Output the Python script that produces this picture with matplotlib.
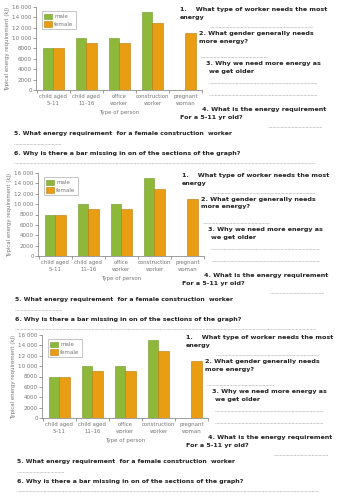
import numpy as np
import matplotlib
matplotlib.use("Agg")
import matplotlib.pyplot as plt
from matplotlib.lines import Line2D

# dados do grafico
categorias = ["child aged\n5\u201311", "child aged\n11\u201316", "office\nworker",
              "construction\nworker", "pregnant\nwoman"]
homem = [8000, 10000, 10000, 15000, np.nan]
mulher = [8000, 9000, 9000, 13000, 11000]
ticks_y = [0, 2000, 4000, 6000, 8000, 10000, 12000, 14000, 16000]
rotulos_y = ["0", "2000", "4000", "6000", "8000", "10 000", "12 000", "14 000", "16 000"]

perguntas = [
    "1.    What type of worker needs the most",
    "energy",
    "2. What gender generally needs",
    "more energy?",
    "3. Why we need more energy as",
    "we get older",
    "4. What is the energy requirement",
    "For a 5-11 yr old?",
    "5. What energy requirement  for a female construction  worker",
    "6. Why is there a bar missing in on of the sections of the graph?",
]

W, H = 353, 500
fig = plt.figure(figsize=(W / 100, H / 100), dpi=100)
fig.patch.set_facecolor("white")

verde = "#8db83a"
laranja = "#e99d12"
cinza = "#777777"


def fx(x):
    return x / W


def fy(y):
    return 1 - y / H


def texto(x, y, s, size=4.6):
    fig.text(fx(x), fy(y), s, fontsize=size, fontweight="bold", va="center",
             ha="left", color="#222222")


def pontilhado(x0, x1, y):
    fig.add_artist(Line2D([fx(x0), fx(x1)], [fy(y), fy(y)], transform=fig.transFigure,
                          color="#999999", lw=0.5, ls=(0, (1, 1))))


def bloco(dx, dy):
    # ============ grafico ============
    ax = fig.add_axes([fx(36 + dx), fy(90 + dy), 166 / W, 83 / H])
    x = np.arange(len(categorias))
    ax.bar(x - 0.16, homem, 0.32, color=verde, edgecolor="#6f9528", lw=0.4, label="male")
    ax.bar(x + 0.16, mulher, 0.32, color=laranja, edgecolor="#b87a08", lw=0.4, label="female")
    ax.set_xlim(-0.52, 4.5)
    ax.set_ylim(0, 16000)
    ax.set_yticks(ticks_y)
    ax.set_yticklabels(rotulos_y)
    ax.set_xticks(np.arange(-0.5, 4.6, 1))
    ax.set_xticklabels([])
    ax.set_xticks(x, minor=True)
    ax.set_xticklabels(categorias, minor=True, fontsize=3.9, color=cinza, linespacing=1.4)
    ax.tick_params(axis="x", which="minor", length=0, pad=3)
    ax.tick_params(axis="x", which="major", length=2, width=0.5, color=cinza)
    ax.tick_params(axis="y", length=2, width=0.5, color=cinza, labelsize=4.1,
                   labelcolor=cinza, pad=1)
    for s in ["top", "right"]:
        ax.spines[s].set_visible(False)
    for s in ["left", "bottom"]:
        ax.spines[s].set_color(cinza)
        ax.spines[s].set_linewidth(0.5)
    ax.set_xlabel("Type of person", fontsize=4.0, color=cinza, labelpad=3)
    ax.set_ylabel("Typical energy requirement (kJ)", fontsize=3.9, color=cinza, labelpad=2)
    leg = ax.legend(loc="upper left", fontsize=4.0, frameon=True, fancybox=False,
                    handlelength=1.4, handleheight=1.2, borderpad=0.4, labelspacing=0.3,
                    handletextpad=0.4, bbox_to_anchor=(0.02, 0.98))
    leg.get_frame().set_edgecolor("#999999")
    leg.get_frame().set_linewidth(0.5)
    for t in leg.get_texts():
        t.set_color(cinza)

    # ============ perguntas ============
    texto(180 + dx, 10 + dy, perguntas[0])
    texto(180 + dx, 18 + dy, perguntas[1])
    pontilhado(210 + dx, 312 + dx, 27 + dy)
    texto(199 + dx, 33 + dy, perguntas[2])
    texto(199 + dx, 41 + dy, perguntas[3])
    pontilhado(201 + dx, 267 + dx, 57 + dy)
    texto(206 + dx, 63 + dy, perguntas[4])
    texto(209 + dx, 71 + dy, perguntas[5])
    pontilhado(209 + dx, 317 + dx, 83 + dy)
    pontilhado(209 + dx, 317 + dx, 95 + dy)
    texto(202 + dx, 109 + dy, perguntas[6])
    texto(180 + dx, 117 + dy, perguntas[7])
    pontilhado(268 + dx, 322 + dx, 127 + dy)
    texto(14 + dx // 2, 133 + dy, perguntas[8], size=4.4)
    pontilhado(14 + dx // 2, 61 + dx // 2, 144 + dy)
    texto(14 + dx // 2, 153 + dy, perguntas[9], size=4.5)
    pontilhado(14 + dx // 2, 315 + dx // 2, 163 + dy)


bloco(0, 0)
bloco(2, 166)
bloco(6, 328)

fig.savefig("out.png", dpi=100, facecolor="white")
